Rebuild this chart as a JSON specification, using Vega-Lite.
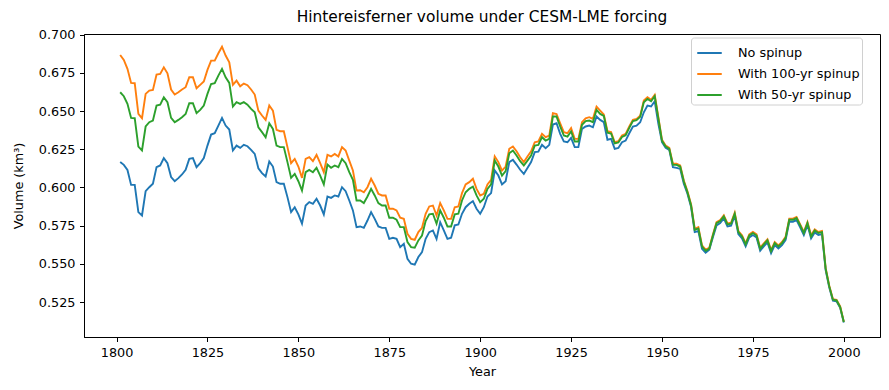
{
  "$schema": "https://vega.github.io/schema/vega-lite/v6.json",
  "autosize": {"type": "none"},
  "width": 796,
  "height": 303,
  "padding": {"left": 84, "top": 34, "right": 9, "bottom": 53},
  "background": "white",
  "title": {"text": "Hintereisferner volume under CESM-LME forcing", "fontSize": 15.4, "fontWeight": "normal", "font": "DejaVu Sans", "color": "black", "offset": 3, "anchor": "middle", "frame": "group"},
  "data": {"values": [
    {"Year":1801,"No spinup":0.6166,"With 100-yr spinup":0.6867,"With 50-yr spinup":0.6623},
    {"Year":1802,"No spinup":0.6148,"With 100-yr spinup":0.6834,"With 50-yr spinup":0.6597},
    {"Year":1803,"No spinup":0.6115,"With 100-yr spinup":0.6776,"With 50-yr spinup":0.6547},
    {"Year":1804,"No spinup":0.6017,"With 100-yr spinup":0.6684,"With 50-yr spinup":0.6455},
    {"Year":1805,"No spinup":0.6017,"With 100-yr spinup":0.6682,"With 50-yr spinup":0.6453},
    {"Year":1806,"No spinup":0.5839,"With 100-yr spinup":0.6481,"With 50-yr spinup":0.6268},
    {"Year":1807,"No spinup":0.5817,"With 100-yr spinup":0.6453,"With 50-yr spinup":0.6242},
    {"Year":1808,"No spinup":0.5976,"With 100-yr spinup":0.6612,"With 50-yr spinup":0.6399},
    {"Year":1809,"No spinup":0.6002,"With 100-yr spinup":0.6634,"With 50-yr spinup":0.6427},
    {"Year":1810,"No spinup":0.6024,"With 100-yr spinup":0.6638,"With 50-yr spinup":0.6438},
    {"Year":1811,"No spinup":0.6133,"With 100-yr spinup":0.6739,"With 50-yr spinup":0.6536},
    {"Year":1812,"No spinup":0.6144,"With 100-yr spinup":0.6743,"With 50-yr spinup":0.6542},
    {"Year":1813,"No spinup":0.6192,"With 100-yr spinup":0.6786,"With 50-yr spinup":0.6590},
    {"Year":1814,"No spinup":0.6159,"With 100-yr spinup":0.6747,"With 50-yr spinup":0.6558},
    {"Year":1815,"No spinup":0.6068,"With 100-yr spinup":0.6641,"With 50-yr spinup":0.6455},
    {"Year":1816,"No spinup":0.6041,"With 100-yr spinup":0.6608,"With 50-yr spinup":0.6427},
    {"Year":1817,"No spinup":0.6061,"With 100-yr spinup":0.6623,"With 50-yr spinup":0.6442},
    {"Year":1818,"No spinup":0.6085,"With 100-yr spinup":0.6641,"With 50-yr spinup":0.6460},
    {"Year":1819,"No spinup":0.6115,"With 100-yr spinup":0.6656,"With 50-yr spinup":0.6481},
    {"Year":1820,"No spinup":0.6187,"With 100-yr spinup":0.6721,"With 50-yr spinup":0.6551},
    {"Year":1821,"No spinup":0.6192,"With 100-yr spinup":0.6721,"With 50-yr spinup":0.6551},
    {"Year":1822,"No spinup":0.6133,"With 100-yr spinup":0.6649,"With 50-yr spinup":0.6486},
    {"Year":1823,"No spinup":0.6159,"With 100-yr spinup":0.6671,"With 50-yr spinup":0.6508},
    {"Year":1824,"No spinup":0.6192,"With 100-yr spinup":0.6693,"With 50-yr spinup":0.6536},
    {"Year":1825,"No spinup":0.6274,"With 100-yr spinup":0.6769,"With 50-yr spinup":0.6612},
    {"Year":1826,"No spinup":0.6346,"With 100-yr spinup":0.6830,"With 50-yr spinup":0.6677},
    {"Year":1827,"No spinup":0.6355,"With 100-yr spinup":0.6830,"With 50-yr spinup":0.6682},
    {"Year":1828,"No spinup":0.6405,"With 100-yr spinup":0.6878,"With 50-yr spinup":0.6732},
    {"Year":1829,"No spinup":0.6455,"With 100-yr spinup":0.6921,"With 50-yr spinup":0.6776},
    {"Year":1830,"No spinup":0.6405,"With 100-yr spinup":0.6863,"With 50-yr spinup":0.6721},
    {"Year":1831,"No spinup":0.6379,"With 100-yr spinup":0.6819,"With 50-yr spinup":0.6684},
    {"Year":1832,"No spinup":0.6242,"With 100-yr spinup":0.6671,"With 50-yr spinup":0.6529},
    {"Year":1833,"No spinup":0.6274,"With 100-yr spinup":0.6699,"With 50-yr spinup":0.6558},
    {"Year":1834,"No spinup":0.6259,"With 100-yr spinup":0.6662,"With 50-yr spinup":0.6547},
    {"Year":1835,"No spinup":0.6279,"With 100-yr spinup":0.6680,"With 50-yr spinup":0.6558},
    {"Year":1836,"No spinup":0.6270,"With 100-yr spinup":0.6669,"With 50-yr spinup":0.6542},
    {"Year":1837,"No spinup":0.6246,"With 100-yr spinup":0.6641,"With 50-yr spinup":0.6514},
    {"Year":1838,"No spinup":0.6220,"With 100-yr spinup":0.6608,"With 50-yr spinup":0.6492},
    {"Year":1839,"No spinup":0.6126,"With 100-yr spinup":0.6503,"With 50-yr spinup":0.6394},
    {"Year":1840,"No spinup":0.6094,"With 100-yr spinup":0.6471,"With 50-yr spinup":0.6362},
    {"Year":1841,"No spinup":0.6072,"With 100-yr spinup":0.6442,"With 50-yr spinup":0.6329},
    {"Year":1842,"No spinup":0.6170,"With 100-yr spinup":0.6536,"With 50-yr spinup":0.6420},
    {"Year":1843,"No spinup":0.6137,"With 100-yr spinup":0.6503,"With 50-yr spinup":0.6383},
    {"Year":1844,"No spinup":0.6035,"With 100-yr spinup":0.6377,"With 50-yr spinup":0.6274},
    {"Year":1845,"No spinup":0.6024,"With 100-yr spinup":0.6368,"With 50-yr spinup":0.6264},
    {"Year":1846,"No spinup":0.6024,"With 100-yr spinup":0.6368,"With 50-yr spinup":0.6264},
    {"Year":1847,"No spinup":0.5937,"With 100-yr spinup":0.6264,"With 50-yr spinup":0.6166},
    {"Year":1848,"No spinup":0.5839,"With 100-yr spinup":0.6159,"With 50-yr spinup":0.6063},
    {"Year":1849,"No spinup":0.5871,"With 100-yr spinup":0.6187,"With 50-yr spinup":0.6089},
    {"Year":1850,"No spinup":0.5824,"With 100-yr spinup":0.6137,"With 50-yr spinup":0.6041},
    {"Year":1851,"No spinup":0.5763,"With 100-yr spinup":0.6063,"With 50-yr spinup":0.5980},
    {"Year":1852,"No spinup":0.5882,"With 100-yr spinup":0.6187,"With 50-yr spinup":0.6100},
    {"Year":1853,"No spinup":0.5904,"With 100-yr spinup":0.6198,"With 50-yr spinup":0.6115},
    {"Year":1854,"No spinup":0.5893,"With 100-yr spinup":0.6172,"With 50-yr spinup":0.6100},
    {"Year":1855,"No spinup":0.5926,"With 100-yr spinup":0.6213,"With 50-yr spinup":0.6129},
    {"Year":1856,"No spinup":0.5882,"With 100-yr spinup":0.6159,"With 50-yr spinup":0.6078},
    {"Year":1857,"No spinup":0.5824,"With 100-yr spinup":0.6100,"With 50-yr spinup":0.6020},
    {"Year":1858,"No spinup":0.5941,"With 100-yr spinup":0.6213,"With 50-yr spinup":0.6150},
    {"Year":1859,"No spinup":0.5932,"With 100-yr spinup":0.6203,"With 50-yr spinup":0.6129},
    {"Year":1860,"No spinup":0.5948,"With 100-yr spinup":0.6220,"With 50-yr spinup":0.6144},
    {"Year":1861,"No spinup":0.5941,"With 100-yr spinup":0.6203,"With 50-yr spinup":0.6133},
    {"Year":1862,"No spinup":0.6002,"With 100-yr spinup":0.6264,"With 50-yr spinup":0.6187},
    {"Year":1863,"No spinup":0.5976,"With 100-yr spinup":0.6242,"With 50-yr spinup":0.6159},
    {"Year":1864,"No spinup":0.5915,"With 100-yr spinup":0.6176,"With 50-yr spinup":0.6100},
    {"Year":1865,"No spinup":0.5850,"With 100-yr spinup":0.6111,"With 50-yr spinup":0.6050},
    {"Year":1866,"No spinup":0.5741,"With 100-yr spinup":0.5980,"With 50-yr spinup":0.5915},
    {"Year":1867,"No spinup":0.5745,"With 100-yr spinup":0.5982,"With 50-yr spinup":0.5915},
    {"Year":1868,"No spinup":0.5736,"With 100-yr spinup":0.5969,"With 50-yr spinup":0.5898},
    {"Year":1869,"No spinup":0.5784,"With 100-yr spinup":0.6002,"With 50-yr spinup":0.5941},
    {"Year":1870,"No spinup":0.5839,"With 100-yr spinup":0.6057,"With 50-yr spinup":0.5991},
    {"Year":1871,"No spinup":0.5795,"With 100-yr spinup":0.6013,"With 50-yr spinup":0.5948},
    {"Year":1872,"No spinup":0.5745,"With 100-yr spinup":0.5959,"With 50-yr spinup":0.5898},
    {"Year":1873,"No spinup":0.5736,"With 100-yr spinup":0.5948,"With 50-yr spinup":0.5882},
    {"Year":1874,"No spinup":0.5736,"With 100-yr spinup":0.5948,"With 50-yr spinup":0.5882},
    {"Year":1875,"No spinup":0.5664,"With 100-yr spinup":0.5861,"With 50-yr spinup":0.5802},
    {"Year":1876,"No spinup":0.5671,"With 100-yr spinup":0.5861,"With 50-yr spinup":0.5802},
    {"Year":1877,"No spinup":0.5664,"With 100-yr spinup":0.5850,"With 50-yr spinup":0.5789},
    {"Year":1878,"No spinup":0.5610,"With 100-yr spinup":0.5802,"With 50-yr spinup":0.5741},
    {"Year":1879,"No spinup":0.5632,"With 100-yr spinup":0.5795,"With 50-yr spinup":0.5741},
    {"Year":1880,"No spinup":0.5534,"With 100-yr spinup":0.5697,"With 50-yr spinup":0.5643},
    {"Year":1881,"No spinup":0.5501,"With 100-yr spinup":0.5664,"With 50-yr spinup":0.5610},
    {"Year":1882,"No spinup":0.5495,"With 100-yr spinup":0.5658,"With 50-yr spinup":0.5606},
    {"Year":1883,"No spinup":0.5545,"With 100-yr spinup":0.5708,"With 50-yr spinup":0.5654},
    {"Year":1884,"No spinup":0.5577,"With 100-yr spinup":0.5736,"With 50-yr spinup":0.5686},
    {"Year":1885,"No spinup":0.5664,"With 100-yr spinup":0.5828,"With 50-yr spinup":0.5780},
    {"Year":1886,"No spinup":0.5708,"With 100-yr spinup":0.5876,"With 50-yr spinup":0.5824},
    {"Year":1887,"No spinup":0.5719,"With 100-yr spinup":0.5882,"With 50-yr spinup":0.5828},
    {"Year":1888,"No spinup":0.5664,"With 100-yr spinup":0.5817,"With 50-yr spinup":0.5763},
    {"Year":1889,"No spinup":0.5773,"With 100-yr spinup":0.5898,"With 50-yr spinup":0.5850},
    {"Year":1890,"No spinup":0.5719,"With 100-yr spinup":0.5850,"With 50-yr spinup":0.5802},
    {"Year":1891,"No spinup":0.5664,"With 100-yr spinup":0.5795,"With 50-yr spinup":0.5745},
    {"Year":1892,"No spinup":0.5671,"With 100-yr spinup":0.5795,"With 50-yr spinup":0.5745},
    {"Year":1893,"No spinup":0.5752,"With 100-yr spinup":0.5871,"With 50-yr spinup":0.5824},
    {"Year":1894,"No spinup":0.5758,"With 100-yr spinup":0.5876,"With 50-yr spinup":0.5828},
    {"Year":1895,"No spinup":0.5828,"With 100-yr spinup":0.5963,"With 50-yr spinup":0.5915},
    {"Year":1896,"No spinup":0.5871,"With 100-yr spinup":0.6020,"With 50-yr spinup":0.5969},
    {"Year":1897,"No spinup":0.5893,"With 100-yr spinup":0.6035,"With 50-yr spinup":0.5991},
    {"Year":1898,"No spinup":0.5911,"With 100-yr spinup":0.6057,"With 50-yr spinup":0.6006},
    {"Year":1899,"No spinup":0.5861,"With 100-yr spinup":0.5991,"With 50-yr spinup":0.5948},
    {"Year":1900,"No spinup":0.5828,"With 100-yr spinup":0.5948,"With 50-yr spinup":0.5904},
    {"Year":1901,"No spinup":0.5871,"With 100-yr spinup":0.5959,"With 50-yr spinup":0.5926},
    {"Year":1902,"No spinup":0.5941,"With 100-yr spinup":0.6020,"With 50-yr spinup":0.5991},
    {"Year":1903,"No spinup":0.5963,"With 100-yr spinup":0.6050,"With 50-yr spinup":0.6020},
    {"Year":1904,"No spinup":0.6111,"With 100-yr spinup":0.6203,"With 50-yr spinup":0.6176},
    {"Year":1905,"No spinup":0.6078,"With 100-yr spinup":0.6166,"With 50-yr spinup":0.6137},
    {"Year":1906,"No spinup":0.6020,"With 100-yr spinup":0.6111,"With 50-yr spinup":0.6078},
    {"Year":1907,"No spinup":0.6041,"With 100-yr spinup":0.6137,"With 50-yr spinup":0.6107},
    {"Year":1908,"No spinup":0.6166,"With 100-yr spinup":0.6253,"With 50-yr spinup":0.6224},
    {"Year":1909,"No spinup":0.6181,"With 100-yr spinup":0.6268,"With 50-yr spinup":0.6242},
    {"Year":1910,"No spinup":0.6150,"With 100-yr spinup":0.6237,"With 50-yr spinup":0.6209},
    {"Year":1911,"No spinup":0.6116,"With 100-yr spinup":0.6198,"With 50-yr spinup":0.6172},
    {"Year":1912,"No spinup":0.6089,"With 100-yr spinup":0.6166,"With 50-yr spinup":0.6144},
    {"Year":1913,"No spinup":0.6128,"With 100-yr spinup":0.6203,"With 50-yr spinup":0.6176},
    {"Year":1914,"No spinup":0.6166,"With 100-yr spinup":0.6237,"With 50-yr spinup":0.6209},
    {"Year":1915,"No spinup":0.6231,"With 100-yr spinup":0.6296,"With 50-yr spinup":0.6274},
    {"Year":1916,"No spinup":0.6235,"With 100-yr spinup":0.6301,"With 50-yr spinup":0.6279},
    {"Year":1917,"No spinup":0.6279,"With 100-yr spinup":0.6351,"With 50-yr spinup":0.6329},
    {"Year":1918,"No spinup":0.6257,"With 100-yr spinup":0.6329,"With 50-yr spinup":0.6307},
    {"Year":1919,"No spinup":0.6279,"With 100-yr spinup":0.6340,"With 50-yr spinup":0.6318},
    {"Year":1920,"No spinup":0.6412,"With 100-yr spinup":0.6486,"With 50-yr spinup":0.6464},
    {"Year":1921,"No spinup":0.6420,"With 100-yr spinup":0.6481,"With 50-yr spinup":0.6464},
    {"Year":1922,"No spinup":0.6351,"With 100-yr spinup":0.6420,"With 50-yr spinup":0.6399},
    {"Year":1923,"No spinup":0.6301,"With 100-yr spinup":0.6362,"With 50-yr spinup":0.6340},
    {"Year":1924,"No spinup":0.6296,"With 100-yr spinup":0.6355,"With 50-yr spinup":0.6333},
    {"Year":1925,"No spinup":0.6325,"With 100-yr spinup":0.6388,"With 50-yr spinup":0.6366},
    {"Year":1926,"No spinup":0.6264,"With 100-yr spinup":0.6318,"With 50-yr spinup":0.6301},
    {"Year":1927,"No spinup":0.6264,"With 100-yr spinup":0.6318,"With 50-yr spinup":0.6301},
    {"Year":1928,"No spinup":0.6383,"With 100-yr spinup":0.6427,"With 50-yr spinup":0.6410},
    {"Year":1929,"No spinup":0.6399,"With 100-yr spinup":0.6453,"With 50-yr spinup":0.6434},
    {"Year":1930,"No spinup":0.6405,"With 100-yr spinup":0.6460,"With 50-yr spinup":0.6438},
    {"Year":1931,"No spinup":0.6394,"With 100-yr spinup":0.6449,"With 50-yr spinup":0.6427},
    {"Year":1932,"No spinup":0.6464,"With 100-yr spinup":0.6529,"With 50-yr spinup":0.6508},
    {"Year":1933,"No spinup":0.6442,"With 100-yr spinup":0.6503,"With 50-yr spinup":0.6481},
    {"Year":1934,"No spinup":0.6427,"With 100-yr spinup":0.6477,"With 50-yr spinup":0.6468},
    {"Year":1935,"No spinup":0.6312,"With 100-yr spinup":0.6368,"With 50-yr spinup":0.6359},
    {"Year":1936,"No spinup":0.6318,"With 100-yr spinup":0.6362,"With 50-yr spinup":0.6353},
    {"Year":1937,"No spinup":0.6253,"With 100-yr spinup":0.6296,"With 50-yr spinup":0.6288},
    {"Year":1938,"No spinup":0.6259,"With 100-yr spinup":0.6303,"With 50-yr spinup":0.6294},
    {"Year":1939,"No spinup":0.6296,"With 100-yr spinup":0.6340,"With 50-yr spinup":0.6331},
    {"Year":1940,"No spinup":0.6307,"With 100-yr spinup":0.6351,"With 50-yr spinup":0.6342},
    {"Year":1941,"No spinup":0.6355,"With 100-yr spinup":0.6399,"With 50-yr spinup":0.6390},
    {"Year":1942,"No spinup":0.6399,"With 100-yr spinup":0.6442,"With 50-yr spinup":0.6434},
    {"Year":1943,"No spinup":0.6405,"With 100-yr spinup":0.6449,"With 50-yr spinup":0.6440},
    {"Year":1944,"No spinup":0.6427,"With 100-yr spinup":0.6470,"With 50-yr spinup":0.6462},
    {"Year":1945,"No spinup":0.6492,"With 100-yr spinup":0.6569,"With 50-yr spinup":0.6558},
    {"Year":1946,"No spinup":0.6536,"With 100-yr spinup":0.6590,"With 50-yr spinup":0.6579},
    {"Year":1947,"No spinup":0.6530,"With 100-yr spinup":0.6573,"With 50-yr spinup":0.6564},
    {"Year":1948,"No spinup":0.6564,"With 100-yr spinup":0.6606,"With 50-yr spinup":0.6597},
    {"Year":1949,"No spinup":0.6416,"With 100-yr spinup":0.6460,"With 50-yr spinup":0.6451},
    {"Year":1950,"No spinup":0.6296,"With 100-yr spinup":0.6312,"With 50-yr spinup":0.6305},
    {"Year":1951,"No spinup":0.6259,"With 100-yr spinup":0.6275,"With 50-yr spinup":0.6268},
    {"Year":1952,"No spinup":0.6246,"With 100-yr spinup":0.6259,"With 50-yr spinup":0.6253},
    {"Year":1953,"No spinup":0.6133,"With 100-yr spinup":0.6155,"With 50-yr spinup":0.6148},
    {"Year":1954,"No spinup":0.6128,"With 100-yr spinup":0.6155,"With 50-yr spinup":0.6148},
    {"Year":1955,"No spinup":0.6122,"With 100-yr spinup":0.6144,"With 50-yr spinup":0.6137},
    {"Year":1956,"No spinup":0.6024,"With 100-yr spinup":0.6046,"With 50-yr spinup":0.6039},
    {"Year":1957,"No spinup":0.5959,"With 100-yr spinup":0.5976,"With 50-yr spinup":0.5969},
    {"Year":1958,"No spinup":0.5872,"With 100-yr spinup":0.5889,"With 50-yr spinup":0.5882},
    {"Year":1959,"No spinup":0.5708,"With 100-yr spinup":0.5730,"With 50-yr spinup":0.5723},
    {"Year":1960,"No spinup":0.5715,"With 100-yr spinup":0.5741,"With 50-yr spinup":0.5732},
    {"Year":1961,"No spinup":0.5599,"With 100-yr spinup":0.5621,"With 50-yr spinup":0.5614},
    {"Year":1962,"No spinup":0.5573,"With 100-yr spinup":0.5593,"With 50-yr spinup":0.5586},
    {"Year":1963,"No spinup":0.5593,"With 100-yr spinup":0.5606,"With 50-yr spinup":0.5599},
    {"Year":1964,"No spinup":0.5675,"With 100-yr spinup":0.5693,"With 50-yr spinup":0.5686},
    {"Year":1965,"No spinup":0.5752,"With 100-yr spinup":0.5773,"With 50-yr spinup":0.5767},
    {"Year":1966,"No spinup":0.5767,"With 100-yr spinup":0.5787,"With 50-yr spinup":0.5780},
    {"Year":1967,"No spinup":0.5798,"With 100-yr spinup":0.5818,"With 50-yr spinup":0.5811},
    {"Year":1968,"No spinup":0.5745,"With 100-yr spinup":0.5765,"With 50-yr spinup":0.5758},
    {"Year":1969,"No spinup":0.5750,"With 100-yr spinup":0.5770,"With 50-yr spinup":0.5763},
    {"Year":1970,"No spinup":0.5815,"With 100-yr spinup":0.5835,"With 50-yr spinup":0.5828},
    {"Year":1971,"No spinup":0.5695,"With 100-yr spinup":0.5715,"With 50-yr spinup":0.5708},
    {"Year":1972,"No spinup":0.5667,"With 100-yr spinup":0.5687,"With 50-yr spinup":0.5680},
    {"Year":1973,"No spinup":0.5615,"With 100-yr spinup":0.5635,"With 50-yr spinup":0.5628},
    {"Year":1974,"No spinup":0.5673,"With 100-yr spinup":0.5693,"With 50-yr spinup":0.5686},
    {"Year":1975,"No spinup":0.5689,"With 100-yr spinup":0.5709,"With 50-yr spinup":0.5702},
    {"Year":1976,"No spinup":0.5673,"With 100-yr spinup":0.5693,"With 50-yr spinup":0.5686},
    {"Year":1977,"No spinup":0.5586,"With 100-yr spinup":0.5606,"With 50-yr spinup":0.5599},
    {"Year":1978,"No spinup":0.5615,"With 100-yr spinup":0.5635,"With 50-yr spinup":0.5628},
    {"Year":1979,"No spinup":0.5641,"With 100-yr spinup":0.5661,"With 50-yr spinup":0.5654},
    {"Year":1980,"No spinup":0.5571,"With 100-yr spinup":0.5591,"With 50-yr spinup":0.5584},
    {"Year":1981,"No spinup":0.5623,"With 100-yr spinup":0.5643,"With 50-yr spinup":0.5636},
    {"Year":1982,"No spinup":0.5601,"With 100-yr spinup":0.5621,"With 50-yr spinup":0.5614},
    {"Year":1983,"No spinup":0.5623,"With 100-yr spinup":0.5643,"With 50-yr spinup":0.5636},
    {"Year":1984,"No spinup":0.5658,"With 100-yr spinup":0.5678,"With 50-yr spinup":0.5671},
    {"Year":1985,"No spinup":0.5776,"With 100-yr spinup":0.5796,"With 50-yr spinup":0.5789},
    {"Year":1986,"No spinup":0.5776,"With 100-yr spinup":0.5796,"With 50-yr spinup":0.5789},
    {"Year":1987,"No spinup":0.5787,"With 100-yr spinup":0.5807,"With 50-yr spinup":0.5800},
    {"Year":1988,"No spinup":0.5739,"With 100-yr spinup":0.5759,"With 50-yr spinup":0.5752},
    {"Year":1989,"No spinup":0.5689,"With 100-yr spinup":0.5709,"With 50-yr spinup":0.5702},
    {"Year":1990,"No spinup":0.5754,"With 100-yr spinup":0.5774,"With 50-yr spinup":0.5767},
    {"Year":1991,"No spinup":0.5667,"With 100-yr spinup":0.5687,"With 50-yr spinup":0.5680},
    {"Year":1992,"No spinup":0.5706,"With 100-yr spinup":0.5726,"With 50-yr spinup":0.5719},
    {"Year":1993,"No spinup":0.5689,"With 100-yr spinup":0.5709,"With 50-yr spinup":0.5702},
    {"Year":1994,"No spinup":0.5695,"With 100-yr spinup":0.5715,"With 50-yr spinup":0.5708},
    {"Year":1995,"No spinup":0.5460,"With 100-yr spinup":0.5474,"With 50-yr spinup":0.5469},
    {"Year":1996,"No spinup":0.5345,"With 100-yr spinup":0.5357,"With 50-yr spinup":0.5353},
    {"Year":1997,"No spinup":0.5260,"With 100-yr spinup":0.5270,"With 50-yr spinup":0.5266},
    {"Year":1998,"No spinup":0.5255,"With 100-yr spinup":0.5265,"With 50-yr spinup":0.5261},
    {"Year":1999,"No spinup":0.5213,"With 100-yr spinup":0.5222,"With 50-yr spinup":0.5218},
    {"Year":2000,"No spinup":0.5117,"With 100-yr spinup":0.5122,"With 50-yr spinup":0.5120}
  ]},
  "transform": [
    {"fold": ["No spinup", "With 100-yr spinup", "With 50-yr spinup"], "as": ["Series", "Volume"]}
  ],
  "mark": {"type": "line", "strokeWidth": 1.9, "clip": true},
  "encoding": {
    "x": {"field": "Year", "type": "quantitative",
          "scale": {"domain": [1791.05, 2009.95], "nice": false, "zero": false},
          "axis": {"values": [1800, 1825, 1850, 1875, 1900, 1925, 1950, 1975, 2000], "format": "d", "title": "Year", "titlePadding": 7}},
    "y": {"field": "Volume", "type": "quantitative",
          "scale": {"domain": [0.5022, 0.7004], "nice": false, "zero": false},
          "axis": {"values": [0.525, 0.55, 0.575, 0.6, 0.625, 0.65, 0.675, 0.7], "format": ".3f", "title": "Volume (km³)", "titlePadding": 13}},
    "color": {"field": "Series", "type": "nominal",
              "scale": {"domain": ["No spinup", "With 100-yr spinup", "With 50-yr spinup"], "range": ["#1f77b4", "#ff7f0e", "#2ca02c"]},
              "legend": {"title": null, "orient": "none", "legendX": 607, "legendY": 3.5}}
  },
  "config": {
    "font": "DejaVu Sans",
    "view": {"stroke": "black", "strokeWidth": 1},
    "axis": {"grid": false, "domainColor": "black", "domainWidth": 1, "tickColor": "black", "tickSize": 4.5, "tickWidth": 1,
             "labelColor": "black", "labelFontSize": 12.8, "labelFont": "DejaVu Sans", "labelPadding": 4.5,
             "titleColor": "black", "titleFontSize": 12.8, "titleFont": "DejaVu Sans", "titleFontWeight": "normal"},
    "legend": {"fillColor": "white", "strokeColor": "#d0d0d0", "cornerRadius": 3, "padding": 2,
               "labelFontSize": 12.8, "labelFont": "DejaVu Sans", "labelColor": "black",
               "symbolType": "stroke", "symbolStrokeWidth": 2, "symbolSize": 600, "symbolOffset": 3, "rowPadding": -4, "labelOffset": 15}
  }
}
